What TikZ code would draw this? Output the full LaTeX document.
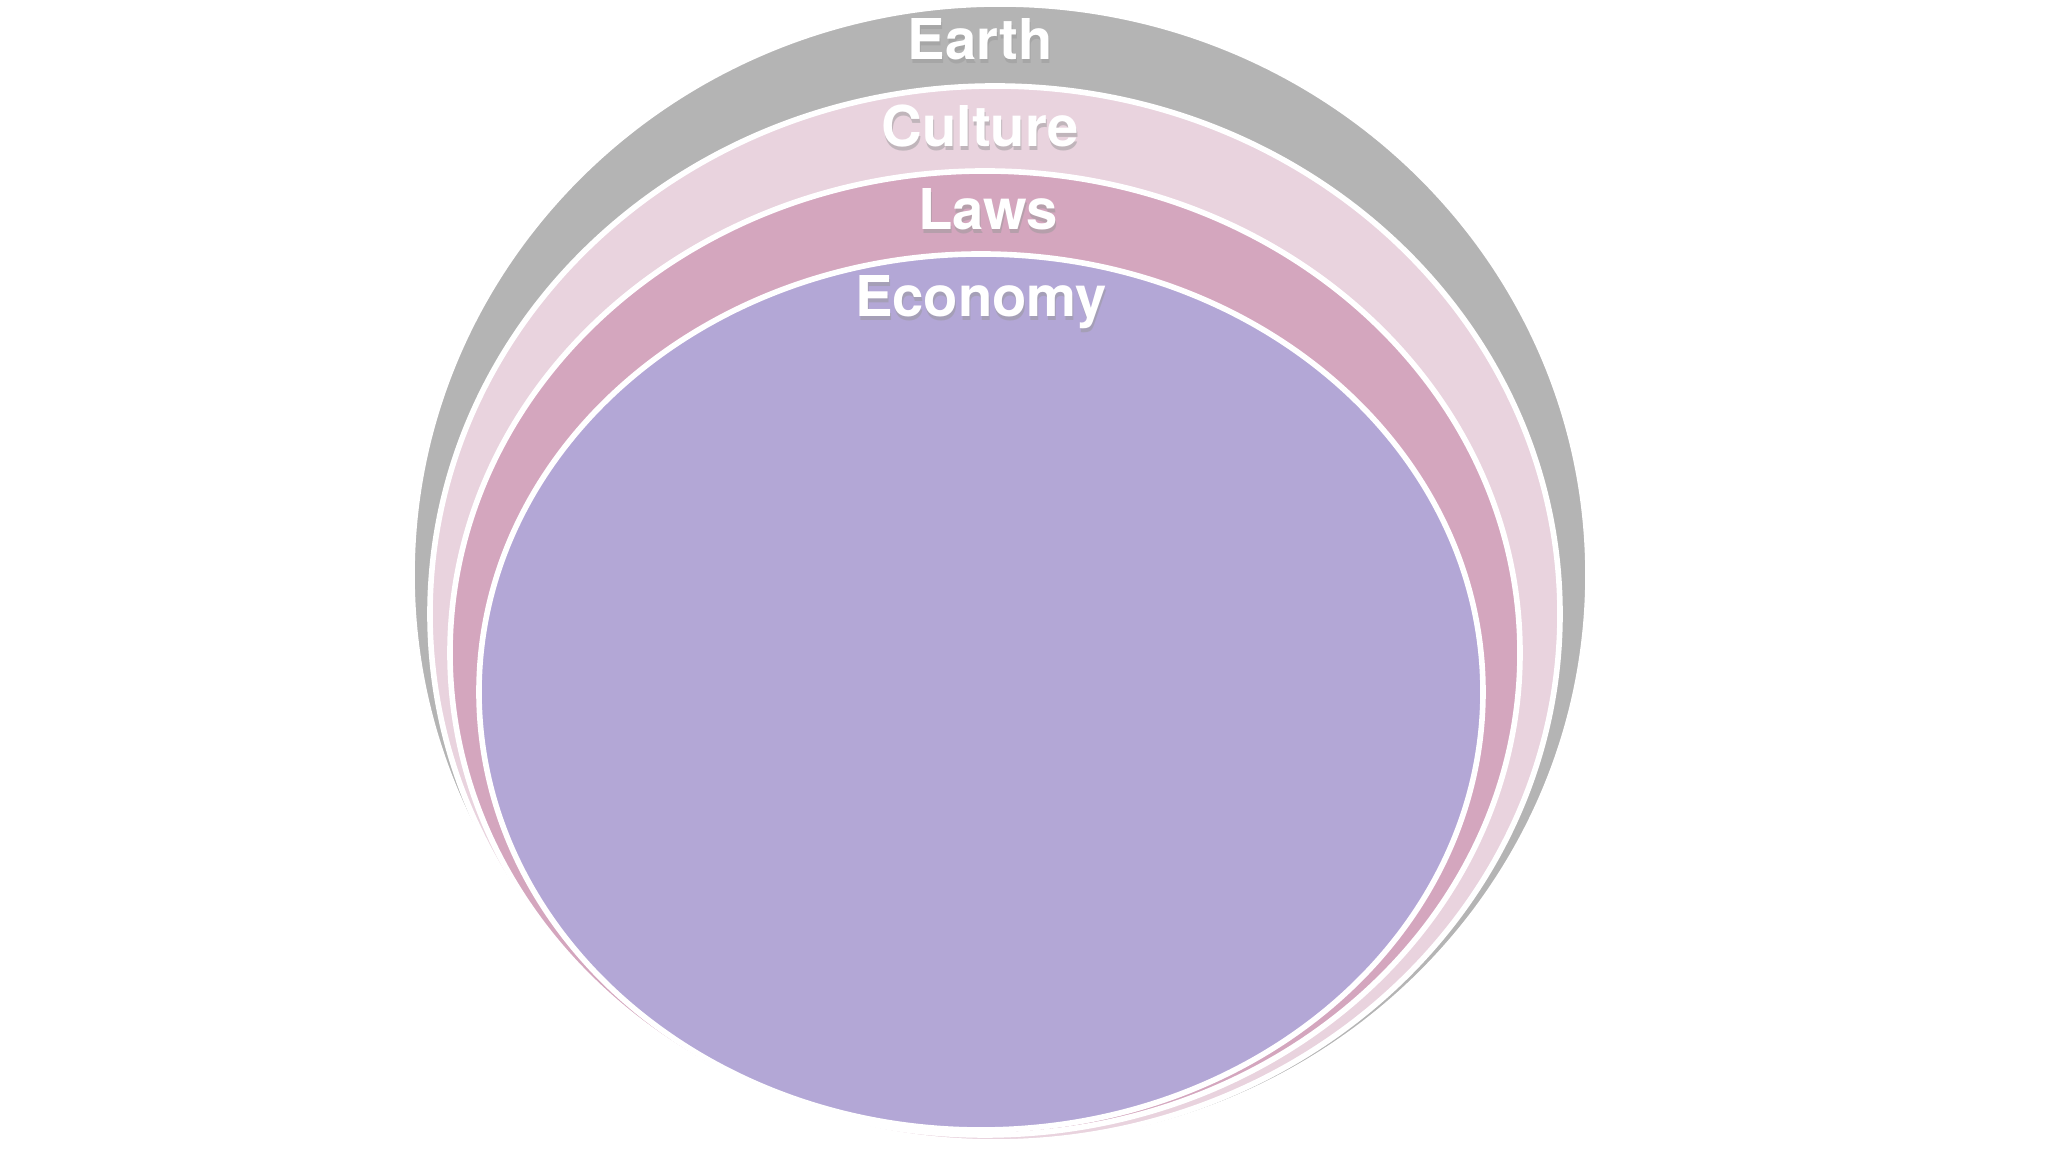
\documentclass[tikz,border=0pt]{standalone}
\usepackage{fontspec}
\setsansfont{TeX Gyre Heros}
\usepackage{xcolor}
\usepackage{tikz}
\usetikzlibrary{positioning}
\definecolor{earthgray}{HTML}{B4B4B4}
\definecolor{culturepink}{HTML}{E9D3DE}
\definecolor{lawsrose}{HTML}{D4A6BE}
\definecolor{econviolet}{HTML}{B3A7D6}

\begin{document}
\begin{tikzpicture}[
    ring/.style={draw=white,line width=1.6pt},
    lbl/.style={font=\sffamily\bfseries\fontsize{16}{18}\selectfont,
                text=white,anchor=base,inner sep=0pt},
    lblshadow/.style={lbl,text=black!40,opacity=0.5},
  ]
    \useasboundingbox[fill=white](0,0) rectangle (20.48,11.52);
    % nested spheres
    \fill[ring,fill=earthgray](10.00,5.77) ellipse [x radius=5.88,y radius=5.71];
    \fill[ring,fill=culturepink](9.95,5.38) ellipse [x radius=5.65,y radius=5.28];
    \fill[ring,fill=lawsrose](9.85,4.99) ellipse [x radius=5.35,y radius=4.82];
    % trim the lower rims
    \fill[white,even odd rule](0,0) rectangle (20.48,11.52)
      (10.00,6.52) ellipse [x radius=6.11,y radius=6.49];
    \fill[ring,fill=econviolet](9.81,4.60) ellipse [x radius=5.02,y radius=4.38];
    % labels
    \node[lblshadow](earthsh) at (9.81,10.885){Earth};
    \node[lbl](earth) at (9.80,10.92){Earth};
    \node[lblshadow](culturesh) at (9.81,10.015){Culture};
    \node[lbl](culture) at (9.80,10.05){Culture};
    \node[lblshadow](lawssh) at (9.89,9.185){Laws};
    \node[lbl](laws) at (9.88,9.22){Laws};
    \node[lblshadow](economysh) at (9.82,8.315){Economy};
    \node[lbl](economy) at (9.81,8.35){Economy};
  \end{tikzpicture}
\end{document}
